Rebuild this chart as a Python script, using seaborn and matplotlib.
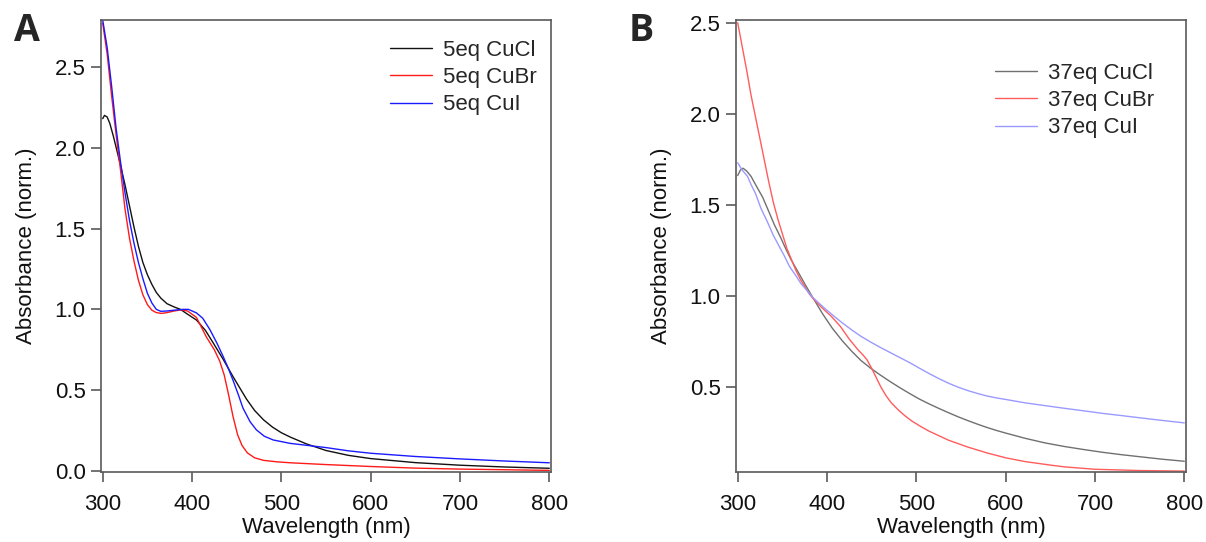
import numpy as np
import pandas as pd
import matplotlib
matplotlib.use("Agg")
import matplotlib.pyplot as plt
import seaborn as sns

# ---------------- Panel A data (5 eq) ----------------
a_cucl_wl = [300, 302, 305, 308, 312, 316, 320, 325, 330, 335, 340, 345, 350, 355, 360, 365, 372, 380, 387, 395,
             405, 415, 424, 435, 446, 455, 461, 470, 480, 490, 500, 510, 528, 550, 575, 600, 650, 700, 750, 800]
a_cucl_ab = [2.18, 2.20, 2.19, 2.15, 2.07, 1.98, 1.89, 1.77, 1.64, 1.51, 1.39, 1.29, 1.215, 1.155, 1.105, 1.07, 1.035, 1.015, 1.0, 0.97,
             0.934, 0.87, 0.79, 0.69, 0.583, 0.50, 0.445, 0.375, 0.317, 0.272, 0.237, 0.21, 0.168, 0.127, 0.097, 0.077, 0.052, 0.036, 0.025, 0.017]

a_cubr_wl = [300, 305, 310, 315, 320, 325, 330, 335, 340, 345, 350, 355, 360, 366, 372, 380, 388, 395, 405, 416,
             425, 431, 436, 441, 446, 451, 456, 462, 470, 480, 495, 510, 550, 600, 650, 700, 750, 800]
a_cubr_ab = [2.77, 2.58, 2.32, 2.08, 1.86, 1.62, 1.44, 1.30, 1.18, 1.09, 1.03, 0.995, 0.98, 0.975, 0.98, 0.99, 0.997, 0.99, 0.95, 0.83,
             0.75, 0.68, 0.595, 0.47, 0.335, 0.225, 0.158, 0.112, 0.082, 0.066, 0.057, 0.051, 0.040, 0.028, 0.018, 0.012, 0.008, 0.004]

a_cui_wl = [300, 305, 310, 315, 320, 325, 330, 335, 340, 345, 350, 355, 360, 365, 372, 380, 390, 396, 405, 412,
            420, 428, 435, 441, 446, 452, 457, 465, 472, 481, 491, 510, 530, 550, 575, 600, 650, 700, 750, 800]
a_cui_ab = [2.79, 2.62, 2.38, 2.12, 1.91, 1.72, 1.55, 1.41, 1.29, 1.19, 1.10, 1.04, 1.00, 0.988, 0.99, 0.995, 1.0, 1.0, 0.978, 0.945,
            0.875, 0.79, 0.707, 0.63, 0.56, 0.47, 0.39, 0.305, 0.255, 0.215, 0.192, 0.171, 0.158, 0.145, 0.125, 0.11, 0.09, 0.075, 0.062, 0.051]

a_labels = ["5eq CuCl", "5eq CuBr", "5eq CuI"]

# ---------------- Panel B data (37 eq) ----------------
b_cucl_wl = [300, 303, 306, 310, 315, 320, 328, 335, 341, 348, 354, 360, 367, 375, 384, 395, 406, 417, 428, 438,
             449, 460, 471, 482, 493, 503, 514, 525, 536, 547, 558, 569, 579, 590, 600, 622, 644, 666, 688, 709,
             730, 752, 776, 800]
b_cucl_ab = [1.66, 1.69, 1.70, 1.685, 1.655, 1.61, 1.54, 1.46, 1.39, 1.32, 1.255, 1.195, 1.135, 1.065, 0.99, 0.90, 0.82, 0.752, 0.692, 0.643,
             0.60, 0.562, 0.526, 0.492, 0.46, 0.432, 0.405, 0.38, 0.356, 0.333, 0.312, 0.292, 0.275, 0.258, 0.244, 0.215, 0.19, 0.17, 0.153, 0.138,
             0.125, 0.113, 0.1, 0.089]

b_cubr_wl = [300, 305, 310, 315, 320, 325, 330, 335, 340, 345, 350, 355, 360, 365, 370, 375, 380, 385, 395, 405,
             415, 425, 435, 440, 445, 450, 455, 460, 466, 472, 480, 487, 495, 505, 514, 536, 557, 579, 600, 622,
             650, 666, 700, 750, 800]
b_cubr_ab = [2.50, 2.37, 2.24, 2.10, 1.98, 1.86, 1.74, 1.62, 1.51, 1.42, 1.34, 1.26, 1.20, 1.14, 1.09, 1.05, 1.01, 0.98, 0.93, 0.885,
             0.83, 0.76, 0.70, 0.675, 0.645, 0.60, 0.55, 0.50, 0.45, 0.41, 0.37, 0.34, 0.31, 0.28, 0.255, 0.205, 0.168, 0.135, 0.108, 0.087,
             0.068, 0.058, 0.045, 0.038, 0.035]

b_cui_wl = [300, 305, 311, 315, 320, 326, 333, 340, 346, 352, 358, 365, 371, 378, 384, 395, 406, 417, 428, 438,
            449, 460, 471, 482, 493, 503, 514, 525, 536, 547, 558, 569, 579, 590, 601, 622, 644, 666, 688, 709,
            730, 752, 776, 800]
b_cui_ab = [1.73, 1.69, 1.655, 1.61, 1.56, 1.48, 1.408, 1.33, 1.275, 1.22, 1.16, 1.11, 1.065, 1.025, 0.99, 0.94, 0.894, 0.85, 0.81, 0.776,
            0.744, 0.714, 0.686, 0.658, 0.63, 0.602, 0.572, 0.544, 0.518, 0.496, 0.477, 0.461, 0.448, 0.437, 0.428, 0.41, 0.395, 0.38, 0.366, 0.352,
            0.34, 0.327, 0.313, 0.30]

b_labels = ["37eq CuCl", "37eq CuBr", "37eq CuI"]

x_ticks = [300, 400, 500, 600, 700, 800]
a_yticks = [0.0, 0.5, 1.0, 1.5, 2.0, 2.5]
b_yticks = [0.5, 1.0, 1.5, 2.0, 2.5]

a_colors = ["#111111", "#ff1a1a", "#1a1aff"]
b_colors = ["#707070", "#ff5c5c", "#9a9aff"]

# ---------------- style ----------------
sns.set_theme(style="white")
plt.rcParams["font.family"] = ["Liberation Sans", "DejaVu Sans"]
spine_col = "#5a5a5a"
FS = 16


def long_frame(wls, abs_, labels):
    frames = []
    for w, a, l in zip(wls, abs_, labels):
        frames.append(pd.DataFrame({"wl": w, "ab": a, "series": l}))
    return pd.concat(frames, ignore_index=True)


dfa = long_frame([a_cucl_wl, a_cubr_wl, a_cui_wl], [a_cucl_ab, a_cubr_ab, a_cui_ab], a_labels)
dfb = long_frame([b_cucl_wl, b_cubr_wl, b_cui_wl], [b_cucl_ab, b_cubr_ab, b_cui_ab], b_labels)

W, H = 1206, 542
fig = plt.figure(figsize=(W / 100, H / 100), dpi=100)
axA = fig.add_axes([101 / W, 1 - 472 / H, 450 / W, 452 / H])
axB = fig.add_axes([736 / W, 1 - 472 / H, 450 / W, 452 / H])


def style_axis(ax, df, labels, colors, yticks, ylim, leg_xy):
    sns.lineplot(data=df, x="wl", y="ab", hue="series", hue_order=labels,
                 palette=dict(zip(labels, colors)), estimator=None, sort=False,
                 linewidth=1.0, ax=ax)
    ax.set_xlim(298.1, 801.9)
    ax.set_ylim(*ylim)
    ax.set_xticks(x_ticks)
    ax.set_yticks(yticks)
    ax.set_xticklabels([str(t) for t in x_ticks])
    ax.set_yticklabels([f"{t:.1f}" for t in yticks])
    for s in ax.spines.values():
        s.set_color(spine_col)
        s.set_linewidth(1.2)
    ax.tick_params(axis="both", which="major", direction="out", length=7, width=1.2,
                   color=spine_col, labelsize=FS, labelcolor="#111111",
                   bottom=True, left=True)
    ax.tick_params(axis="x", pad=8.5)
    ax.tick_params(axis="y", pad=4)
    ax.set_xlabel("Wavelength (nm)", fontsize=FS, color="#111111", labelpad=2)
    ax.set_ylabel("Absorbance (norm.)", fontsize=FS, color="#111111", labelpad=13)
    handles, labs = ax.get_legend_handles_labels()
    ax.legend(handles, labs, loc="upper left", bbox_to_anchor=leg_xy,
              bbox_transform=fig.transFigure, frameon=False, fontsize=FS,
              handlelength=1.9, handletextpad=0.5, labelspacing=0.28,
              borderpad=0, borderaxespad=0)
    ax.grid(False)


style_axis(axA, dfa, a_labels, a_colors, a_yticks, (-0.006, 2.79), (390 / W, 1 - 40 / H))
style_axis(axB, dfb, b_labels, b_colors, b_yticks, (0.03, 2.515), (995 / W, 1 - 63 / H))

fig.text(14 / W, 1 - 41 / H, "A", fontsize=27, fontweight="bold", family="Open Sans",
         ha="left", va="baseline")
fig.text(629 / W, 1 - 41 / H, "B", fontsize=27, fontweight="bold", family="Open Sans",
         ha="left", va="baseline")

fig.savefig("out.png", dpi=100, facecolor="white")
